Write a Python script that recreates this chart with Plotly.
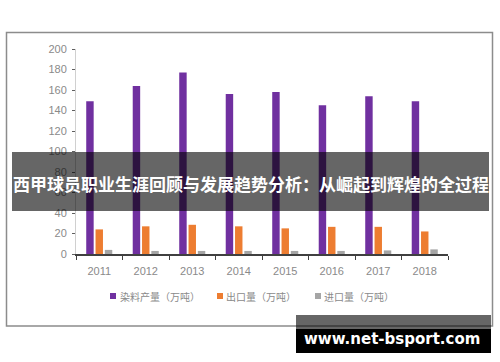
import plotly.graph_objects as go

years = ["2011", "2012", "2013", "2014", "2015", "2016", "2017", "2018"]
production = [149, 164, 177, 156, 158, 145, 154, 149]
exports = [24, 27, 28.5, 27, 25, 26.5, 26.5, 22]
imports = [4, 3, 3, 3, 3, 3, 3.5, 4.5]
series_names = ["染料产量（万吨）", "出口量（万吨）", "进口量（万吨）"]
y_ticks = [0, 20, 40, 60, 80, 100, 120, 140, 160, 180, 200]

W, H = 500, 362
L, R, T, B = 76, 448, 49, 254  # plot area in pixels


def px(x):
    return (x - L) / (R - L)


def py(y):
    return (B - y) / (B - T)


colors = ["#7030A0", "#ED7D31", "#A5A5A5"]
fig = go.Figure()
for name, vals, c in zip(series_names, [production, exports, imports], colors):
    fig.add_trace(go.Bar(x=years, y=vals, name=name, marker=dict(color=c, line=dict(width=0))))

font_cjk = "Noto Sans CJK SC, Noto Sans, sans-serif"

fig.update_layout(
    width=W, height=H,
    margin=dict(l=L, r=W - R, t=T, b=H - B, pad=0, autoexpand=False),
    paper_bgcolor="white", plot_bgcolor="white",
    barmode="group", bargap=0.4, bargroupgap=0.2,
    showlegend=False,
    font=dict(family="Liberation Sans, Arial, sans-serif", color="#8a8a8a"),
)
fig.update_xaxes(
    showgrid=False, showline=True, linecolor="#404040", linewidth=1.5,
    ticks="outside", tickson="boundaries", ticklen=4, tickcolor="#404040",
    tickfont=dict(size=11, color="#8a8a8a"), ticklabelstandoff=6, automargin=False,
)
fig.update_yaxes(
    range=[0, 200], tickvals=y_ticks, showgrid=False, zeroline=False,
    showline=True, linecolor="#d0d0d0", linewidth=1,
    ticks="outside", ticklen=3, tickcolor="#606060",
    tickfont=dict(size=11, color="#8a8a8a"), ticklabelstandoff=3, automargin=False,
)

shapes = [
    # outer frame
    dict(type="rect", xref="paper", yref="paper", x0=px(6.5), x1=px(492.5), y0=py(32.5), y1=py(326),
         line=dict(color="#8c8c8c", width=1.5), fillcolor="rgba(0,0,0,0)", layer="below"),
]

# manual legend (swatch squares + labels)
legend_sq_x = [110, 217, 315]
legend_txt_x = [118, 224, 322]
for c, name, sx, tx in zip(colors, series_names, legend_sq_x, legend_txt_x):
    shapes.append(dict(type="rect", xref="paper", yref="paper", x0=px(sx), x1=px(sx + 6),
                       y0=py(293), y1=py(299), line=dict(width=0), fillcolor=c))
    fig.add_annotation(x=px(tx), y=py(296), xref="paper", yref="paper", showarrow=False,
                       text=name, font=dict(family=font_cjk, size=10, color="#8a8a8a"),
                       xanchor="left", yanchor="middle")

shapes += [
    # banner overlay
    dict(type="rect", xref="paper", yref="paper", x0=px(12), x1=px(489), y0=py(152), y1=py(211),
         line=dict(width=0), fillcolor="rgba(0,0,0,0.6)", layer="above"),
    # watermark boxes
    dict(type="rect", xref="paper", yref="paper", x0=px(296), x1=px(491), y0=py(315), y1=py(329),
         line=dict(width=0), fillcolor="rgba(0,0,0,0.6)", layer="above"),
    dict(type="rect", xref="paper", yref="paper", x0=px(296), x1=px(491), y0=py(329), y1=py(353),
         line=dict(width=0), fillcolor="#000000", layer="above"),
]
fig.update_layout(shapes=shapes)

fig.add_annotation(x=px(250.5), y=py(184), xref="paper", yref="paper", showarrow=False,
                   text="<b>西甲球员职业生涯回顾与发展趋势分析：从崛起到辉煌的全过程</b>",
                   font=dict(family=font_cjk, size=17, color="white"),
                   xanchor="center", yanchor="middle")
fig.add_annotation(x=px(392), y=py(339), xref="paper", yref="paper", showarrow=False,
                   text="<b>www.net-bsport.com</b>",
                   font=dict(family="DejaVu Sans, Verdana, sans-serif", size=15, color="white"),
                   xanchor="center", yanchor="middle")

fig.write_html("out.html", config={"displayModeBar": False},
               post_script="document.body.style.margin='0';document.body.style.overflow='hidden';")
